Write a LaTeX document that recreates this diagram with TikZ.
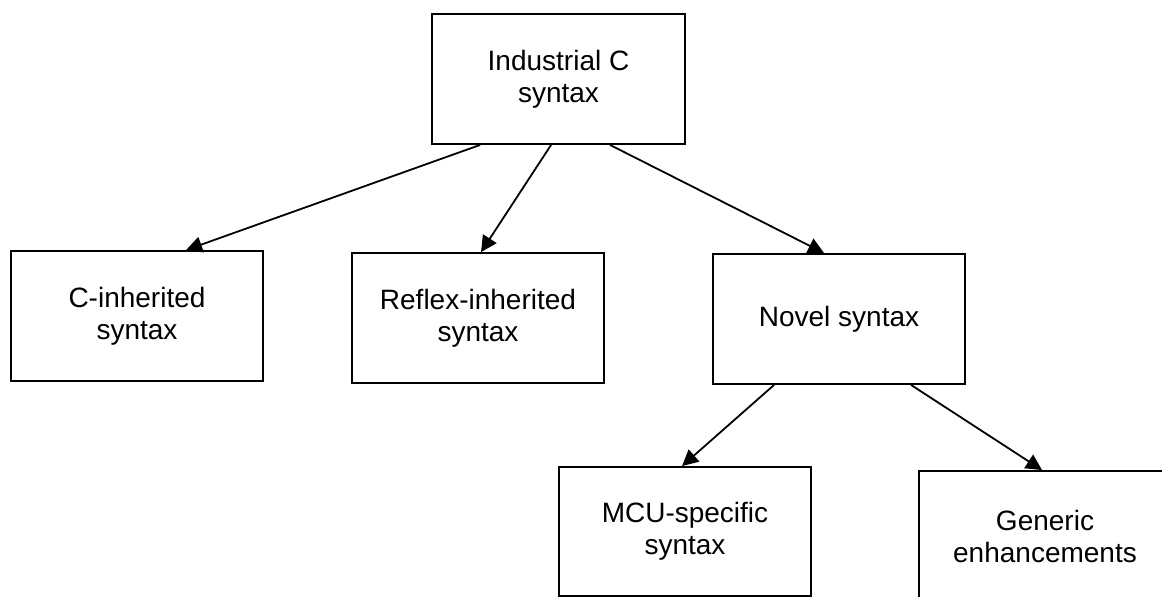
\documentclass[tikz,border=0pt]{standalone}
\usepackage{fontspec}
\setmainfont{Liberation Sans}
\usetikzlibrary{arrows.meta,calc}
\begin{document}
\begin{tikzpicture}[x=1pt,y=-1pt,
  box/.style={draw, line width=1.9pt, minimum width=252pt, minimum height=130pt,
    align=center, inner sep=0pt, font=\fontsize{28}{32}\selectfont},
  link/.style={line width=1.8pt, -{Triangle[length=16pt,width=16pt]}}]
\useasboundingbox (0,0) rectangle (1162,597);
\clip (0,0) rectangle (1162,597);

% category boxes
\node[box, minimum width=253pt] (top) at (558.5,79) {Industrial C\\syntax};
\node[box] (cinh)    at (137,316)  {C-inherited\\syntax};
\node[box] (reflex)  at (478,318)  {Reflex-inherited\\syntax};
\node[box] (novel)   at (839,319)  {Novel syntax};
\node[box, minimum height=129pt] (mcu) at (685,531.5) {MCU-specific\\syntax};
\node[box] (generic) at (1045,536) {Generic\\enhancements};

% hierarchy links
\draw[link] ([xshift=49pt]top.south west)  -- ([xshift=176pt]cinh.north west);
\draw[link] ([xshift=120pt]top.south west) -- ([xshift=130pt]reflex.north west);
\draw[link] ([xshift=179pt]top.south west) -- ([xshift=112pt]novel.north west);
\draw[link] ([xshift=62pt]novel.south west)  -- ([xshift=124pt]mcu.north west);
\draw[link] ([xshift=199pt]novel.south west) -- ([xshift=124pt]generic.north west);
\end{tikzpicture}
\end{document}
